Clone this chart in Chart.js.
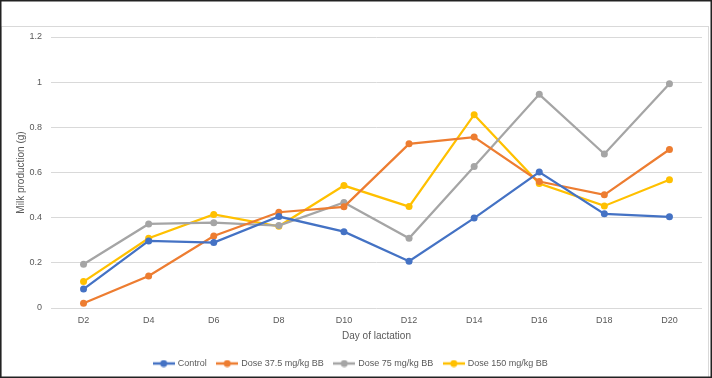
<!DOCTYPE html>
<html>
<head>
<meta charset="utf-8">
<script src="https://cdn.jsdelivr.net/npm/chart.js@4/dist/chart.umd.min.js"></script>
<style>
    body { margin: 0; background: #fff; }
    #wrap { width: 712px; height: 378px; position: relative; }
</style>
</head>
<body>
<div id="wrap"><canvas id="milk-chart" width="712" height="378"></canvas></div>
<script>
// Days of lactation and milk production (g) per group
const days = ['D2', 'D4', 'D6', 'D8', 'D10', 'D12', 'D14', 'D16', 'D18', 'D20'];
const control = [0.084, 0.297, 0.290, 0.405, 0.338, 0.207, 0.398, 0.602, 0.417, 0.404];
const dose37 = [0.021, 0.142, 0.319, 0.424, 0.448, 0.727, 0.757, 0.560, 0.501, 0.702];
const dose75 = [0.194, 0.372, 0.378, 0.365, 0.467, 0.309, 0.627, 0.946, 0.682, 0.993];
const dose150 = [0.117, 0.309, 0.414, 0.362, 0.542, 0.449, 0.856, 0.551, 0.452, 0.568];
const yTicks = [0, 0.2, 0.4, 0.6, 0.8, 1, 1.2];

const names = ['Control', 'Dose 37.5 mg/kg BB', 'Dose 75 mg/kg BB', 'Dose 150 mg/kg BB'];
const colors = ['#4472C4', '#ED7D31', '#A5A5A5', '#FFC000'];
const series = [control, dose37, dose75, dose150];

const FONT = "'Liberation Sans', Arial, sans-serif";
const TEXT = '#595959';

// legend marker: short line with a dot
function legendMarker(color) {
    const c = document.createElement('canvas');
    c.width = 22;
    c.height = 8;
    const ctx = c.getContext('2d');
    ctx.strokeStyle = color;
    ctx.lineWidth = 2.5;
    ctx.beginPath();
    ctx.moveTo(0, 4);
    ctx.lineTo(22, 4);
    ctx.stroke();
    ctx.fillStyle = color;
    ctx.beginPath();
    ctx.arc(11, 4, 3.5, 0, Math.PI * 2);
    ctx.fill();
    return c;
}

// white background, frame lines
const framePlugin = {
    id: 'frame',
    beforeDraw(chart) {
        const ctx = chart.ctx;
        ctx.save();
        ctx.fillStyle = '#fff';
        ctx.fillRect(0, 0, chart.width, chart.height);
        ctx.strokeStyle = '#D9D9D9';
        ctx.lineWidth = 1;
        ctx.strokeRect(1.5, 26.5, 707, 352);
        ctx.strokeStyle = '#222';
        ctx.lineWidth = 1.5;
        ctx.strokeRect(0.75, 0.75, chart.width - 1.5, chart.height - 1.5);
        ctx.restore();
    }
};

const datasets = [];
for (let i = 0; i < series.length; i++) {
    datasets.push({
        label: names[i],
        data: series[i],
        borderColor: colors[i],
        backgroundColor: colors[i],
        borderWidth: 2.25,
        pointRadius: 3.5,
        pointHoverRadius: 3.5,
        pointBorderWidth: 0,
        tension: 0
    });
}

new Chart(document.getElementById('milk-chart'), {
    type: 'line',
    data: { labels: days, datasets: datasets },
    plugins: [framePlugin],
    options: {
        responsive: false,
        animation: false,
        events: [],
        layout: { padding: { left: 0, right: 10, top: 37, bottom: 0 } },
        plugins: {
            tooltip: { enabled: false },
            legend: {
                position: 'bottom',
                labels: {
                    usePointStyle: true,
                    pointStyleWidth: 19,
                    padding: 11,
                    color: TEXT,
                    font: { family: FONT, size: 9 },
                    generateLabels(chart) {
                        return chart.data.datasets.map((ds, i) => ({
                            text: ds.label,
                            pointStyle: legendMarker(ds.borderColor),
                            fillStyle: ds.borderColor,
                            strokeStyle: ds.borderColor,
                            fontColor: TEXT,
                            lineWidth: 0,
                            hidden: false,
                            datasetIndex: i
                        }));
                    }
                }
            }
        },
        scales: {
            x: {
                offset: true,
                grid: { display: false, drawTicks: false },
                border: { display: false },
                ticks: { color: TEXT, font: { family: FONT, size: 9 }, padding: 7 },
                title: {
                    display: true,
                    text: 'Day of lactation',
                    color: TEXT,
                    font: { family: FONT, size: 10 },
                    padding: { top: 4, bottom: 6 }
                },
                afterFit(scale) { scale.height = 40; }
            },
            y: {
                min: 0,
                max: 1.2,
                afterBuildTicks(scale) { scale.ticks = yTicks.map(v => ({ value: v })); },
                grid: { color: '#D9D9D9', lineWidth: 1, drawTicks: false },
                border: { display: false },
                ticks: {
                    color: TEXT,
                    font: { family: FONT, size: 9 },
                    padding: 9,
                    callback: v => String(Math.round(v * 10) / 10)
                },
                title: {
                    display: true,
                    text: 'Milk production (g)',
                    color: TEXT,
                    font: { family: FONT, size: 10 },
                    padding: { top: 15, bottom: 0 }
                },
                afterFit(scale) { scale.width = 51; }
            }
        }
    }
});
</script>
</body>
</html>
